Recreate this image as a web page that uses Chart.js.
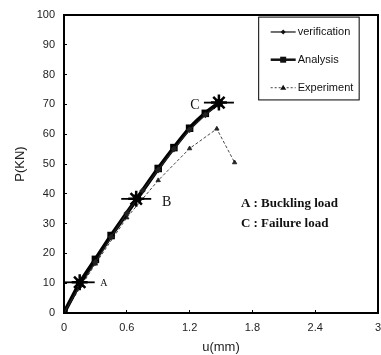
<!DOCTYPE html>
<html><head><meta charset="utf-8">
<script src="https://cdn.jsdelivr.net/npm/chart.js@4/dist/chart.umd.min.js"></script>
<style>html,body{margin:0;padding:0;background:#fff;}#wrap{width:381px;height:355px;}</style>
</head><body><div id="wrap"><canvas id="c" width="381" height="355"></canvas></div>
<script>
const verifX = [0, 0.15, 0.3, 0.45, 0.6, 0.75, 0.9, 1.05, 1.2, 1.35, 1.47];
const verifY = [0, 9, 17, 25.5, 33.5, 41, 48, 55, 61.5, 66.5, 70];
const analysisX = [0, 0.15, 0.3, 0.45, 0.7, 0.9, 1.05, 1.2, 1.35, 1.48];
const analysisY = [0, 10, 18, 26, 38.5, 48.5, 55.5, 62, 67, 70.5];
const expX = [0, 0.3, 0.6, 0.9, 1.2, 1.46, 1.63];
const expY = [0, 16.5, 32, 44.5, 55.2, 61.8, 50.5];
const starX = [0.15, 0.69, 1.48];
const starY = [10.3, 38.3, 70.6];
const xTicks = [0, 0.6, 1.2, 1.8, 2.4, 3];
const yTicks = [0, 10, 20, 30, 40, 50, 60, 70, 80, 90, 100];
const pointLabels = [{t:'A', x:0.38, y:10, size:10}, {t:'B', x:0.98, y:37.2, size:14}, {t:'C', x:1.25, y:69.6, size:14}];
const notes = [{t:'A : Buckling load', x:1.69, y:36.6}, {t:'C : Failure load', x:1.69, y:29.9}];
const legendItems = ['verification', 'Analysis', 'Experiment'];

const pts = (xs, ys) => xs.map((x, i) => ({x, y: ys[i]}));

const overlay = {
  id: 'overlay',
  afterDatasetsDraw(chart) {
    const ctx = chart.ctx, xs = chart.scales.x, ys = chart.scales.y;
    ctx.save();
    ctx.fillStyle = '#111';
    ctx.textBaseline = 'middle';
    pointLabels.forEach(p => {
      ctx.font = p.size + 'px "Liberation Serif"';
      ctx.textAlign = 'center';
      ctx.fillText(p.t, xs.getPixelForValue(p.x), ys.getPixelForValue(p.y));
    });
    ctx.font = 'bold 13px "Liberation Serif"';
    ctx.textAlign = 'left';
    notes.forEach(n => ctx.fillText(n.t, xs.getPixelForValue(n.x), ys.getPixelForValue(n.y)));
    // frame
    const a = chart.chartArea;
    ctx.strokeStyle = '#000';
    ctx.lineWidth = 2;
    ctx.strokeRect(a.left, a.top, a.right - a.left, a.bottom - a.top);
    // legend box
    const lx = xs.getPixelForValue(1.86), rx = xs.getPixelForValue(2.82);
    const ty = ys.getPixelForValue(99.3), by = ys.getPixelForValue(71.5);
    ctx.fillStyle = '#fff';
    ctx.fillRect(lx, ty, rx - lx, by - ty);
    ctx.lineWidth = 1;
    ctx.strokeRect(lx, ty, rx - lx, by - ty);
    const rows = [94.3, 85, 75.6].map(v => ys.getPixelForValue(v));
    const x0 = lx + 12, x1 = lx + 37;
    ctx.font = '11px "Liberation Sans"';
    legendItems.forEach((t, i) => {
      const y = rows[i];
      ctx.strokeStyle = '#111';
      ctx.fillStyle = '#111';
      if (i === 0) { ctx.lineWidth = 1.2; ctx.setLineDash([]); }
      else if (i === 1) { ctx.lineWidth = 2.5; ctx.setLineDash([]); }
      else { ctx.lineWidth = 0.8; ctx.setLineDash([2, 2]); }
      ctx.beginPath(); ctx.moveTo(x0, y); ctx.lineTo(x1, y); ctx.stroke();
      ctx.setLineDash([]);
      const cx = (x0 + x1) / 2;
      ctx.beginPath();
      if (i === 0) { ctx.moveTo(cx, y - 2.5); ctx.lineTo(cx + 2.5, y); ctx.lineTo(cx, y + 2.5); ctx.lineTo(cx - 2.5, y); }
      else if (i === 1) { ctx.rect(cx - 3, y - 3, 6, 6); }
      else { ctx.moveTo(cx, y - 3); ctx.lineTo(cx + 3, y + 2); ctx.lineTo(cx - 3, y + 2); }
      ctx.closePath(); ctx.fill();
      ctx.fillStyle = '#111';
      ctx.textAlign = 'left';
      ctx.fillText(t, x1 + 2, y);
    });
    ctx.restore();
  }
};

new Chart(document.getElementById('c'), {
  type: 'scatter',
  data: {
    datasets: [
      {label: 'Experiment', data: pts(expX, expY), showLine: true, borderColor: '#333', borderWidth: 0.9, borderDash: [3, 2],
       pointStyle: 'triangle', pointRadius: 2.5, backgroundColor: '#222', pointBorderColor: '#222', order: 3},
      {label: 'Analysis', data: pts(analysisX, analysisY), showLine: true, borderColor: '#000', borderWidth: 4,
       pointStyle: 'rect', pointRadius: 2.5, backgroundColor: '#000', pointBorderColor: '#000', tension: 0.2, order: 2},
      {label: 'verification', data: pts(verifX, verifY), showLine: true, borderColor: '#222', borderWidth: 1.2,
       pointStyle: 'rectRot', pointRadius: 2.5, backgroundColor: '#222', pointBorderColor: '#222', order: 1},
      {label: 'starArm', data: pts(starX, starY), showLine: false, pointStyle: 'line', pointRadius: 15,
       pointBorderWidth: 1.8, pointBorderColor: '#000', order: 0},
      {label: 'star', data: pts(starX, starY), showLine: false, pointStyle: 'star', pointRadius: 8,
       pointBorderWidth: 2.5, pointBorderColor: '#000', backgroundColor: '#000', order: 0}
    ]
  },
  options: {
    responsive: false, animation: false, events: [],
    layout: {autoPadding: false, padding: {left: 13, right: 3, top: 15, bottom: 0}},
    plugins: {legend: {display: false}, tooltip: {enabled: false}},
    scales: {
      x: {type: 'linear', min: 0, max: 3,
        afterFit: s => { s.height = 42; s.paddingLeft = 0; s.paddingRight = 0; },
        afterBuildTicks: s => { s.ticks = xTicks.map(v => ({value: v})); },
        ticks: {color: '#222', font: {family: 'Liberation Sans', size: 11}, padding: 11,
          callback: v => String(v), maxRotation: 0},
        grid: {display: true, drawOnChartArea: false, drawTicks: true, tickLength: -3, color: '#000'},
        border: {display: true, color: '#000', width: 2},
        title: {display: true, text: 'u(mm)', color: '#222', font: {family: 'Liberation Sans', size: 13}, padding: {top: 0, bottom: 0}}
      },
      y: {type: 'linear', min: 0, max: 100,
        afterFit: s => { s.width = 51; s.paddingTop = 0; s.paddingBottom = 0; },
        afterBuildTicks: s => { s.ticks = yTicks.map(v => ({value: v})); },
        ticks: {color: '#222', font: {family: 'Liberation Sans', size: 11}, padding: 12, callback: v => String(v)},
        grid: {display: true, drawOnChartArea: false, drawTicks: true, tickLength: -3, color: '#000'},
        border: {display: true, color: '#000', width: 2},
        title: {display: true, text: 'P(KN)', color: '#222', font: {family: 'Liberation Sans', size: 13}, padding: {top: 0, bottom: 4}}
      }
    }
  },
  plugins: [overlay]
});
</script>
</body></html>
